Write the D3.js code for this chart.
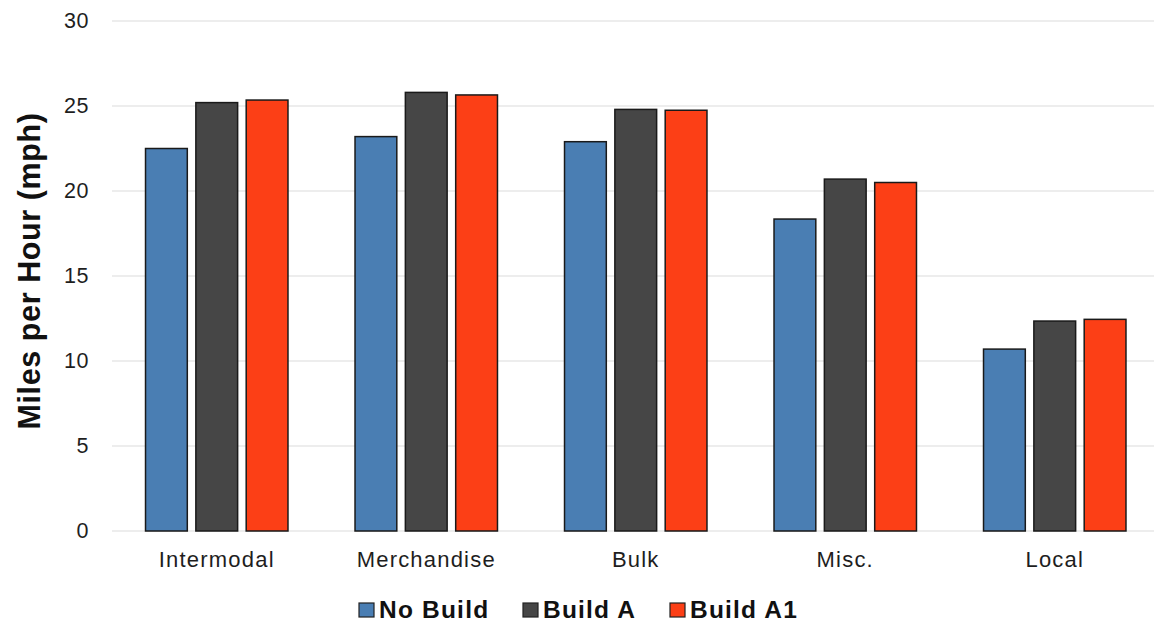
<!DOCTYPE html>
<html>
<head>
<meta charset="utf-8">
<script src="https://cdn.jsdelivr.net/npm/d3@7"></script>
<style>
  html, body { margin: 0; padding: 0; background: #ffffff; }
  svg { display: block; font-family: "Liberation Sans", Arial, sans-serif; }
</style>
</head>
<body>
<svg id="chart" width="1154" height="625"></svg>
<script>
// Average train speed by traffic type and scenario
const categories = ["Intermodal", "Merchandise", "Bulk", "Misc.", "Local"];
const seriesNames = ["No Build", "Build A", "Build A1"];
const noBuild = [22.5, 23.2, 22.9, 18.35, 10.7];
const buildA = [25.2, 25.8, 24.8, 20.7, 12.35];
const buildA1 = [25.35, 25.65, 24.75, 20.5, 12.45];
const yTicks = [0, 5, 10, 15, 20, 25, 30];

const seriesValues = [noBuild, buildA, buildA1];
const colors = ["#4a7eb3", "#464646", "#fc3f16"];

const svg = d3.select("#chart");
const W = 1154;
const plotLeft = 112;

const x = d3.scaleBand()
  .domain(categories)
  .range([plotLeft, plotLeft + 5 * 209.5])
  .paddingInner(0.32)
  .paddingOuter(0.16);

const x1 = d3.scaleBand()
  .domain(seriesNames)
  .range([0, x.bandwidth()])
  .paddingInner(0.17);

const y = d3.scaleLinear()
  .domain([0, 30])
  .range([531, 21]);

// horizontal gridlines
svg.append("g")
  .selectAll("line")
  .data(yTicks)
  .join("line")
  .attr("x1", plotLeft)
  .attr("x2", W)
  .attr("y1", d => y(d))
  .attr("y2", d => y(d))
  .attr("stroke", "#dcdcdc")
  .attr("stroke-width", 1.2);

// y axis tick labels
const yAxis = d3.axisLeft(y).tickValues(yTicks).tickSize(0).tickPadding(0);
const yg = svg.append("g").attr("transform", "translate(89,0)").call(yAxis);
yg.select(".domain").remove();
yg.selectAll("text")
  .attr("font-size", 21.5)
  .attr("letter-spacing", 0.5)
  .attr("fill", "#1e1e1e")
  .attr("font-family", "Liberation Sans, Arial, sans-serif");

// y axis title
svg.append("text")
  .attr("transform", "translate(40,271) rotate(-90)")
  .attr("text-anchor", "middle")
  .attr("font-size", 30.5)
  .attr("letter-spacing", 0.6)
  .attr("font-weight", "bold")
  .attr("fill", "#111")
  .text("Miles per Hour (mph)");

// bars
const groups = svg.append("g")
  .selectAll("g")
  .data(categories)
  .join("g")
  .attr("transform", d => `translate(${x(d)},0)`);

groups.selectAll("rect")
  .data((d, i) => seriesNames.map((s, j) => ({ s, j, v: seriesValues[j][i] })))
  .join("rect")
  .attr("x", d => x1(d.s))
  .attr("width", x1.bandwidth())
  .attr("y", d => y(d.v))
  .attr("height", d => y(0) - y(d.v))
  .attr("fill", d => colors[d.j])
  .attr("stroke", "#1a1a1a")
  .attr("stroke-width", 1.5);

// category labels
const xAxis = d3.axisBottom(x).tickSize(0).tickPadding(0);
const xg = svg.append("g").attr("transform", "translate(0,567)").call(xAxis);
xg.select(".domain").remove();
xg.selectAll("text")
  .attr("font-size", 22)
  .attr("letter-spacing", 1.2)
  .attr("fill", "#1e1e1e")
  .attr("dy", 0)
  .attr("font-family", "Liberation Sans, Arial, sans-serif");

// legend
const legendX = [359, 523, 670];
const lg = svg.append("g");
seriesNames.forEach((name, i) => {
  lg.append("rect")
    .attr("x", legendX[i]).attr("y", 603)
    .attr("width", 15).attr("height", 14)
    .attr("fill", colors[i])
    .attr("stroke", "#222").attr("stroke-width", 1.2);
  lg.append("text")
    .attr("x", legendX[i] + 20).attr("y", 618)
    .attr("font-size", 24.5)
    .attr("letter-spacing", 1.2)
    .attr("font-weight", "bold")
    .attr("fill", "#111")
    .text(name);
});
</script>
</body>
</html>
